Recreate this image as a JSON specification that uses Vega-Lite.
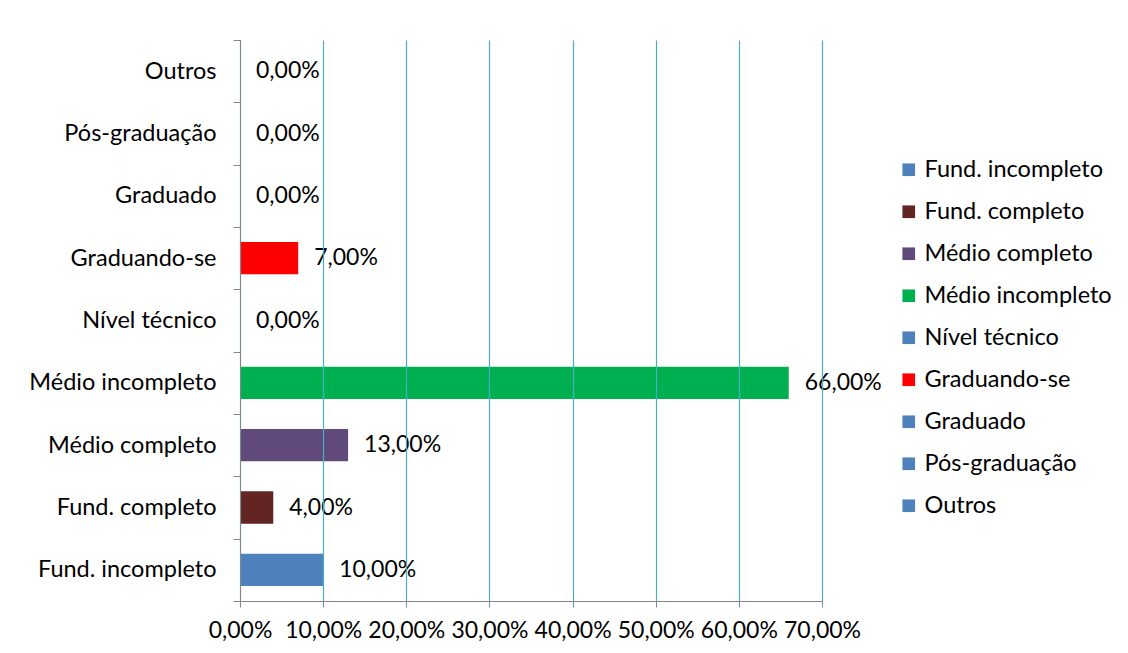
{
  "$schema": "https://vega.github.io/schema/vega-lite/v6.json",
  "width": 582,
  "height": 561,
  "autosize": {"type": "none"},
  "padding": {"left": 240, "top": 40, "right": 306, "bottom": 52},
  "background": "white",
  "data": {
    "values": [
      {"cat": "Fund. incompleto", "v": 0.10},
      {"cat": "Fund. completo", "v": 0.04},
      {"cat": "Médio completo", "v": 0.13},
      {"cat": "Médio incompleto", "v": 0.66},
      {"cat": "Nível técnico", "v": 0.0},
      {"cat": "Graduando-se", "v": 0.07},
      {"cat": "Graduado", "v": 0.0},
      {"cat": "Pós-graduação", "v": 0.0},
      {"cat": "Outros", "v": 0.0}
    ]
  },
  "transform": [
    {"calculate": "replace(format(datum.v, '.2%'), '.', ',')", "as": "lbl"}
  ],
  "encoding": {
    "y": {
      "field": "cat",
      "type": "nominal",
      "sort": ["Outros", "Pós-graduação", "Graduado", "Graduando-se", "Nível técnico", "Médio incompleto", "Médio completo", "Fund. completo", "Fund. incompleto"],
      "scale": {"paddingInner": 0, "paddingOuter": 0},
      "axis": {
        "title": null,
        "zindex": 2,
        "domainColor": "#868686",
        "tickColor": "#868686",
        "tickBand": "extent",
        "tickSize": 7,
        "labelPadding": 17,
        "labelFont": "Lato",
        "labelFontSize": 23.5,
        "labelColor": "#000000",
        "labelLimit": 300
      }
    },
    "x": {
      "field": "v",
      "type": "quantitative",
      "scale": {"domain": [0, 0.7], "nice": false},
      "axis": {
        "title": null,
        "values": [0, 0.1, 0.2, 0.3, 0.4, 0.5, 0.6, 0.7],
        "labelExpr": "replace(format(datum.value, '.2%'), '.', ',')",
        "grid": true,
        "gridColor": "#4BACC6",
        "gridWidth": 1.2,
        "zindex": 1,
        "domainColor": "#868686",
        "tickColor": "#868686",
        "tickSize": 6,
        "labelPadding": 12,
        "labelFont": "Lato",
        "labelFontSize": 23,
        "labelColor": "#000000",
        "labelFlush": false,
        "labelOverlap": false
      }
    }
  },
  "layer": [
    {
      "mark": {"type": "bar", "height": {"band": 0.52}},
      "encoding": {
        "color": {
          "field": "cat",
          "type": "nominal",
          "scale": {
            "domain": ["Fund. incompleto", "Fund. completo", "Médio completo", "Médio incompleto", "Nível técnico", "Graduando-se", "Graduado", "Pós-graduação", "Outros"],
            "range": ["#4F81BD", "#632523", "#604A7B", "#00B050", "#4F81BD", "#FF0000", "#4F81BD", "#4F81BD", "#4F81BD"]
          },
          "legend": {
            "title": null,
            "orient": "none",
            "legendX": 657,
            "legendY": 118,
            "padding": 0,
            "symbolType": "square",
            "symbolSize": 160,
            "symbolStrokeWidth": 0,
            "symbolOpacity": 1,
            "rowPadding": 17,
            "labelFont": "Lato",
            "labelFontSize": 23.5,
            "labelColor": "#000000",
            "labelLimit": 300,
            "labelOffset": 4
          }
        }
      }
    },
    {
      "mark": {"type": "text", "align": "left", "dx": 16, "font": "Lato", "fontSize": 23, "color": "#000000"},
      "encoding": {"text": {"field": "lbl"}}
    }
  ],
  "config": {"view": {"stroke": null}}
}
